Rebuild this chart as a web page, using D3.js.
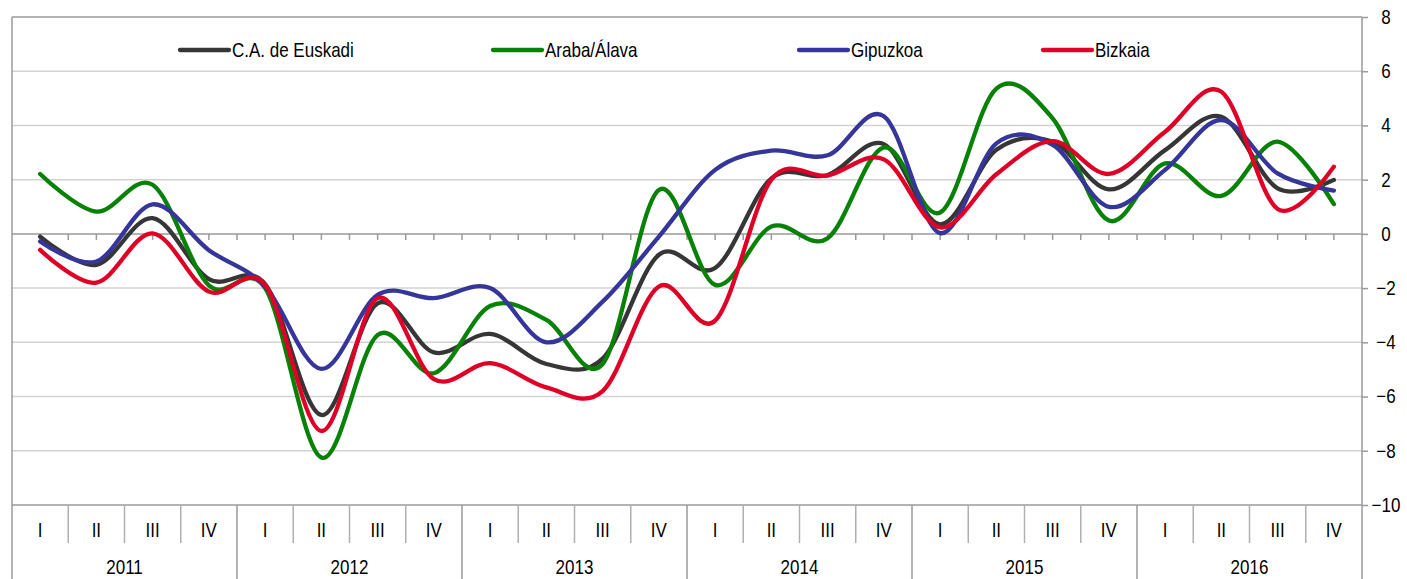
<!DOCTYPE html>
<html>
<head>
<meta charset="utf-8">
<script src="https://cdn.jsdelivr.net/npm/d3@7"></script>
<style>
  body { margin: 0; background: #fff; }
  text { font-family: "Liberation Sans Narrow", "Arial Narrow", "Liberation Sans", Arial, sans-serif; fill: #000; }
</style>
</head>
<body>
<div id="chart"></div>
<script>
// quarters and years on the category axis
let quarters = ["I", "II", "III", "IV"];
let years = ["2011", "2012", "2013", "2014", "2015", "2016"];
let yTicks = [8, 6, 4, 2, 0, -2, -4, -6, -8, -10];

// series (one value per quarter, 2011-I .. 2016-IV)
let seriesNames = ["C.A. de Euskadi", "Araba/Álava", "Gipuzkoa", "Bizkaia"];
let seriesColors = ["#363636", "#078207", "#35359a", "#de0026"];

let euskadi = [-0.1, -1.14, 0.58, -1.67, -1.85, -6.68, -2.56, -4.37,
  -3.69, -4.8, -4.6, -0.77, -1.26, 2.05, 2.17, 3.31,
  0.35, 3.1, 3.4, 1.64, 3.09, 4.32, 1.68, 1.99];
let araba = [2.21, 0.82, 1.81, -1.9, -2.0, -8.25, -3.73, -5.14,
  -2.66, -3.17, -4.8, 1.62, -1.88, 0.27, -0.16, 3.19,
  0.79, 5.36, 4.26, 0.49, 2.6, 1.4, 3.4, 1.1];
let gipuzkoa = [-0.28, -1.02, 1.09, -0.6, -1.94, -4.98, -2.25, -2.37,
  -2.0, -4.0, -2.5, -0.1, 2.36, 3.07, 2.9, 4.34,
  0.03, 3.34, 3.28, 1.0, 2.36, 4.2, 2.23, 1.6];
let bizkaia = [-0.59, -1.8, 0.02, -2.13, -1.88, -7.27, -2.37, -5.36,
  -4.77, -5.66, -5.8, -1.94, -3.2, 2.0, 2.15, 2.75,
  0.24, 2.2, 3.42, 2.21, 3.77, 5.24, 0.92, 2.48];

let seriesValues = [euskadi, araba, gipuzkoa, bizkaia];

let W = 1407, H = 579;
let plot = {left: 12, right: 1362, top: 17, bottom: 505};
// the reference uses a condensed face; squeeze the regular one
let squeeze = 0.85;

let svg = d3.select("#chart").append("svg")
  .attr("width", W)
  .attr("height", H);

let cats = [];
years.forEach(function (yr) {
  quarters.forEach(function (q) { cats.push(yr + "-" + q); });
});

let x = d3.scaleBand()
  .domain(cats)
  .range([plot.left, plot.right]);

let y = d3.scaleLinear()
  .domain([-10, 8])
  .range([plot.bottom, plot.top]);

function place(px, py) {
  return "translate(" + px + "," + py + ") scale(" + squeeze + ",1)";
}

// gridlines
svg.append("g")
  .selectAll("line")
  .data(yTicks.filter(function (d) { return d !== 0 && d !== -10 && d !== 8; }))
  .enter().append("line")
  .attr("x1", plot.left).attr("x2", plot.right)
  .attr("y1", function (d) { return y(d); })
  .attr("y2", function (d) { return y(d); })
  .attr("stroke", "#d2d2d2")
  .attr("stroke-width", 1.5);

// plot frame: top, bottom, left
svg.append("line")
  .attr("x1", plot.left).attr("x2", plot.right)
  .attr("y1", plot.top).attr("y2", plot.top)
  .attr("stroke", "#9a9a9a").attr("stroke-width", 1.5);
svg.append("line")
  .attr("x1", plot.left).attr("x2", plot.right)
  .attr("y1", plot.bottom).attr("y2", plot.bottom)
  .attr("stroke", "#9a9a9a").attr("stroke-width", 1.5);
svg.append("line")
  .attr("x1", plot.left).attr("x2", plot.left)
  .attr("y1", plot.top).attr("y2", H)
  .attr("stroke", "#9a9a9a").attr("stroke-width", 1.5);

// zero line with small ticks at every half category
svg.append("line")
  .attr("x1", plot.left).attr("x2", plot.right)
  .attr("y1", y(0)).attr("y2", y(0))
  .attr("stroke", "#9a9a9a").attr("stroke-width", 1.5);

let halfTicks = [];
cats.forEach(function (c, i) {
  halfTicks.push(x(c) + x.bandwidth() / 2);
  if (i > 0) halfTicks.push(x(c));
});
svg.append("g")
  .selectAll("line")
  .data(halfTicks)
  .enter().append("line")
  .attr("x1", function (d) { return d; })
  .attr("x2", function (d) { return d; })
  .attr("y1", y(0)).attr("y2", y(0) + 6)
  .attr("stroke", "#9a9a9a").attr("stroke-width", 1.5);

// right value axis
let yAxis = svg.append("g")
  .attr("transform", "translate(" + plot.right + ",0)")
  .call(d3.axisRight(y).tickValues(yTicks).tickSize(6).tickPadding(0).tickFormat(d3.format("d")));
yAxis.select(".domain").remove();
yAxis.selectAll(".tick line").attr("stroke", "#9a9a9a").attr("stroke-width", 1.5);
yAxis.selectAll(".tick text")
  .attr("x", 0)
  .attr("transform", place(24, 0))
  .attr("text-anchor", "middle")
  .attr("fill", "#000")
  .style("font-size", "20px");
svg.append("line")
  .attr("x1", plot.right).attr("x2", plot.right)
  .attr("y1", plot.top).attr("y2", H)
  .attr("stroke", "#9a9a9a").attr("stroke-width", 1.5);

// category labels: quarter separators + labels
let qg = svg.append("g");
qg.selectAll("line")
  .data(cats.filter(function (c, i) { return i % 4 !== 0; }))
  .enter().append("line")
  .attr("x1", function (d) { return x(d); })
  .attr("x2", function (d) { return x(d); })
  .attr("y1", plot.bottom).attr("y2", 543)
  .attr("stroke", "#b0b0b0").attr("stroke-width", 1.5);
qg.selectAll("text")
  .data(cats)
  .enter().append("text")
  .attr("transform", function (d) { return place(x(d) + x.bandwidth() / 2, 537); })
  .attr("text-anchor", "middle")
  .style("font-size", "20px")
  .text(function (d) { return d.split("-")[1]; });

// year separators + labels
let yearBand = d3.scaleBand().domain(years).range([plot.left, plot.right]);
let yg = svg.append("g");
yg.selectAll("line")
  .data(years.slice(1))
  .enter().append("line")
  .attr("x1", function (d) { return yearBand(d); })
  .attr("x2", function (d) { return yearBand(d); })
  .attr("y1", plot.bottom).attr("y2", H)
  .attr("stroke", "#9a9a9a").attr("stroke-width", 1.5);
yg.selectAll("text")
  .data(years)
  .enter().append("text")
  .attr("transform", function (d) { return place(yearBand(d) + yearBand.bandwidth() / 2, 574); })
  .attr("text-anchor", "middle")
  .style("font-size", "20px")
  .text(function (d) { return d; });

// smoothed lines
let line = d3.line()
  .x(function (d, i) { return x(cats[i]) + x.bandwidth() / 2; })
  .y(function (d) { return y(d); })
  .curve(d3.curveCardinal.tension(0));

svg.append("g")
  .selectAll("path")
  .data(seriesValues)
  .enter().append("path")
  .attr("d", line)
  .attr("fill", "none")
  .attr("stroke", function (d, i) { return seriesColors[i]; })
  .attr("stroke-width", 4.3)
  .attr("stroke-linecap", "round")
  .attr("stroke-linejoin", "round");

// legend
let legendX = [180, 493, 799, 1043];
let legend = svg.append("g")
  .selectAll("g")
  .data(seriesNames)
  .enter().append("g")
  .attr("transform", function (d, i) { return "translate(" + legendX[i] + ",50)"; });
legend.append("line")
  .attr("x1", 0).attr("x2", 49)
  .attr("stroke", function (d, i) { return seriesColors[i]; })
  .attr("stroke-width", 4.3)
  .attr("stroke-linecap", "round");
legend.append("text")
  .attr("transform", place(52, 7))
  .style("font-size", "20px")
  .text(function (d) { return d; });
</script>
</body>
</html>
